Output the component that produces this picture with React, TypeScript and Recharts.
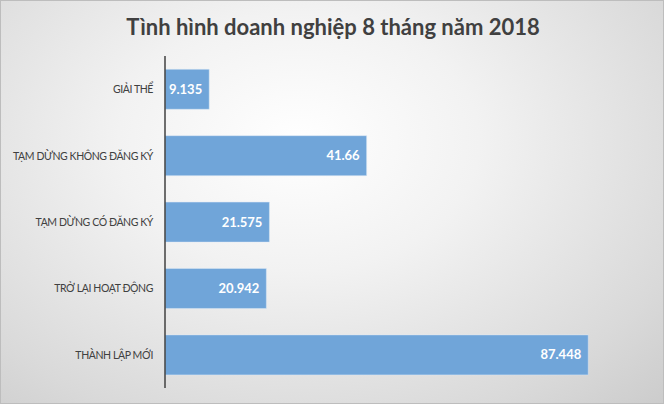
import { BarChart, Bar, XAxis, YAxis, LabelList } from "recharts";

const categories = [
  "GIẢI THỂ",
  "TẠM DỪNG KHÔNG ĐĂNG KÝ",
  "TẠM DỪNG CÓ ĐĂNG KÝ",
  "TRỞ LẠI HOẠT ĐỘNG",
  "THÀNH LẬP MỚI",
];
const values = [9.135, 41.66, 21.575, 20.942, 87.448];
const valueLabels = ["9.135", "41.66", "21.575", "20.942", "87.448"];

const data = categories.map((name, i) => ({ name, value: values[i], label: valueLabels[i] }));

const FONT = "Lato, 'Open Sans', sans-serif";

// plain one-line tick, no wrapping
function CategoryTick(props: any) {
  const { x, y, payload } = props;
  return (
    <text
      x={x}
      y={y}
      dy={4}
      textAnchor="end"
      fill="#404040"
      fontSize={10.5}
      letterSpacing={-0.4}
      fontFamily={FONT}
    >
      {payload.value}
    </text>
  );
}

export default function App() {
  return (
    <div
      style={{
        position: "relative",
        width: 664,
        height: 404,
        boxSizing: "border-box",
        border: "1px solid #bdbdbd",
        background: "radial-gradient(ellipse at 45% 35%, #ffffff 0%, #f2f2f2 35%, #d9d9d9 80%, #cccccc 100%)",
        fontFamily: FONT,
      }}
    >
      <style>{`body{margin:0}`}</style>
      <div
        style={{
          position: "absolute",
          top: 12,
          left: 0,
          width: 664,
          textAlign: "center",
          fontSize: 22,
          fontWeight: 700,
          color: "#404040",
        }}
      >
        Tình hình doanh nghiệp 8 tháng năm 2018
      </div>
      <BarChart
        width={662}
        height={402}
        data={data}
        layout="vertical"
        margin={{ top: 55, right: 14, bottom: 15, left: 0 }}
        barCategoryGap="20%"
        style={{ position: "absolute", top: 0, left: 0 }}
      >
        <XAxis type="number" domain={[0, 100]} hide />
        <YAxis
          type="category"
          dataKey="name"
          width={164}
          axisLine={{ stroke: "#404040", strokeWidth: 1.5 }}
          tickLine={false}
          tickSize={8}
          tickMargin={4}
          tick={<CategoryTick />}
        />
        <Bar dataKey="value" fill="#70a5d9" stroke="#dce9f5" strokeWidth={0.5} isAnimationActive={false}>
          <LabelList
            dataKey="label"
            position="insideRight"
            offset={7}
            fill="#ffffff"
            style={{ fontSize: 13, fontWeight: 700, fontFamily: FONT }}
          />
        </Bar>
      </BarChart>
    </div>
  );
}
